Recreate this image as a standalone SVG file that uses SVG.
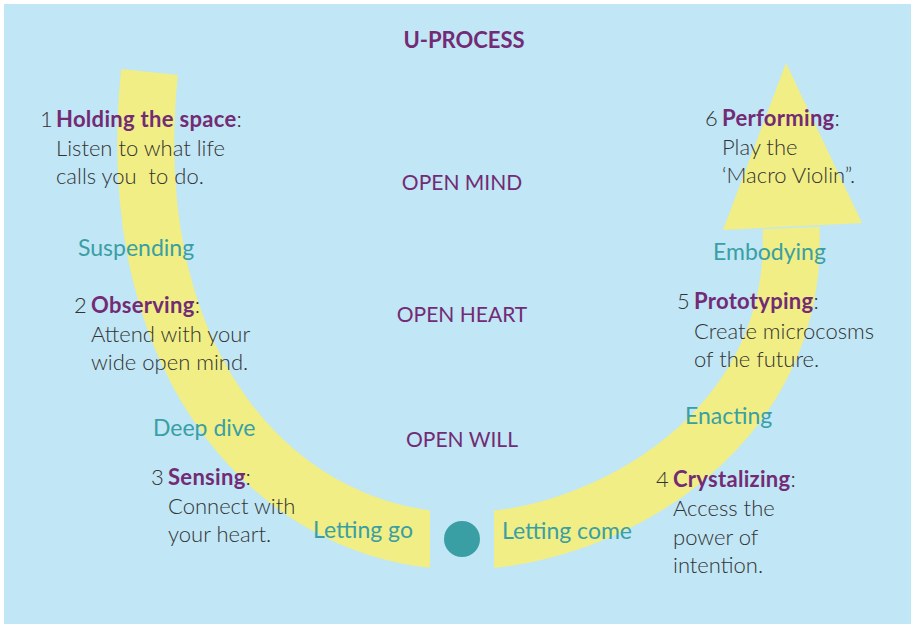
<svg xmlns="http://www.w3.org/2000/svg" width="911" height="624" viewBox="0 0 911 624">
<style>
text{font-family:Lato,"Liberation Sans",sans-serif;}
.t{font-size:22px;fill:#333;font-weight:300;white-space:pre;}
.b{font-weight:700;fill:#722b74;letter-spacing:0.3px;}
.c{font-size:21px;fill:#722b74;font-weight:400;}
.g{font-size:23px;fill:#3a9fa4;font-weight:400;}
.band{fill:none;stroke:#f0ee85;stroke-width:57;}
</style>
<defs>
<clipPath id="cl"><rect x="0" y="0" width="430" height="624"/></clipPath>
<clipPath id="cr"><rect x="494" y="0" width="417" height="624"/></clipPath>
</defs>
<rect x="4" y="4" width="907" height="620" fill="#c1e6f5"/>
<g id="connectors">
<path class="band" clip-path="url(#cl)" d="M149.5,72 C118,380 290,541 462,541"/>
<path class="band" clip-path="url(#cr)" d="M462,541 C605,541 800,430 791,228"/>
<polygon points="786,63 862,223 723,230" fill="#f0ee85"/>
</g>
<circle id="center" cx="462" cy="539" r="18" fill="#3a9fa4"/>
<text x="464" y="48" text-anchor="middle" style="font-size:22px;font-weight:700;fill:#722b74">U-PROCESS</text>
<g id="n1"><text class="t" x="40" y="127">1<tspan class="b" x="56">Holding the space</tspan>:</text>
<text class="t" x="56" y="156">Listen to what life</text>
<text class="t" x="56" y="184">calls you  to do.</text></g>
<g id="n2"><text class="t" x="74" y="313">2<tspan class="b" x="91">Observing</tspan>:</text>
<text class="t" x="91" y="342">Attend with your</text>
<text class="t" x="91" y="370">wide open mind.</text></g>
<g id="n3"><text class="t" x="151" y="485">3<tspan class="b" x="168">Sensing</tspan>:</text>
<text class="t" x="168" y="514">Connect with</text>
<text class="t" x="168" y="542">your heart.</text></g>
<g id="n4"><text class="t" x="656" y="487">4<tspan class="b" x="673">Crystalizing</tspan>:</text>
<text class="t" x="673" y="516">Access the</text>
<text class="t" x="673" y="545">power of</text>
<text class="t" x="673" y="573">intention.</text></g>
<g id="n5"><text class="t" x="677" y="309">5<tspan class="b" x="694">Prototyping</tspan>:</text>
<text class="t" x="694" y="339">Create microcosms</text>
<text class="t" x="694" y="367">of the future.</text></g>
<g id="n6"><text class="t" x="705" y="126">6<tspan class="b" x="722">Performing</tspan>:</text>
<text class="t" x="722" y="155">Play the</text>
<text class="t" x="722" y="183">‘Macro Violin”.</text></g>
<g id="levels">
<text class="c" x="462" y="190" text-anchor="middle">OPEN MIND</text>
<text class="c" x="462" y="322" text-anchor="middle">OPEN HEART</text>
<text class="c" x="462" y="447" text-anchor="middle">OPEN WILL</text>
</g>
<g id="labels">
<text class="g" x="78" y="256">Suspending</text>
<text class="g" x="153" y="436">Deep dive</text>
<text class="g" x="313" y="538">Letting go</text>
<text class="g" x="502" y="539">Letting come</text>
<text class="g" x="685" y="424">Enacting</text>
<text class="g" x="713" y="260">Embodying</text>
</g>
</svg>
